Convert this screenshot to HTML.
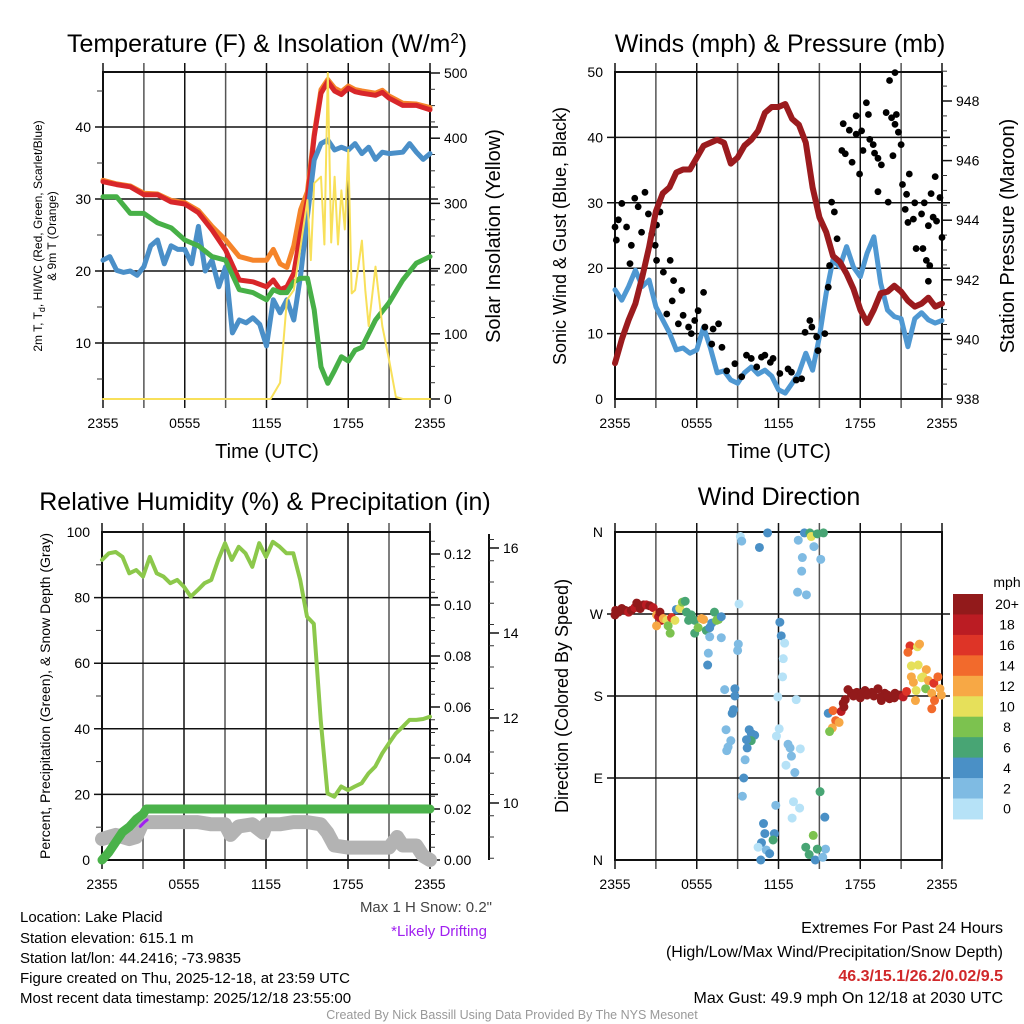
<!DOCTYPE html>
<html><head><meta charset="utf-8">
<style>
html,body{margin:0;padding:0;background:#fff;}
svg{display:block;font-family:"Liberation Sans",Arial,sans-serif;}
</style></head>
<body>
<svg id="fig" xmlns="http://www.w3.org/2000/svg" width="1024" height="1024" viewBox="0 0 1024 1024">
<rect x="0" y="0" width="1024" height="1024" fill="#fff"/>
<text x="267" y="52" font-size="25" text-anchor="middle">Temperature (F) &amp; Insolation (W/m<tspan dy="-9" font-size="15">2</tspan><tspan dy="9">)</tspan></text>
<text x="780" y="52" font-size="25" text-anchor="middle">Winds (mph) &amp; Pressure (mb)</text>
<text x="265" y="510" font-size="25" text-anchor="middle">Relative Humidity (%) &amp; Precipitation (in)</text>
<text x="779" y="505" font-size="25" text-anchor="middle">Wind Direction</text>
<text x="267" y="458" font-size="20" text-anchor="middle">Time (UTC)</text>
<text x="779" y="458" font-size="20" text-anchor="middle">Time (UTC)</text>
<text transform="translate(42,236) rotate(-90)" font-size="12" text-anchor="middle">2m T, T<tspan dy="3" font-size="9">d</tspan><tspan dy="-3">, HI/WC (Red, Green, Scarlet/Blue)</tspan></text>
<text transform="translate(56,236) rotate(-90)" font-size="12" text-anchor="middle">&amp; 9m T (Orange)</text>
<text transform="translate(500,236) rotate(-90)" font-size="20" text-anchor="middle">Solar Insolation (Yellow)</text>
<text transform="translate(566,236) rotate(-90)" font-size="18" text-anchor="middle">Sonic Wind &amp; Gust (Blue, Black)</text>
<text transform="translate(1014,236) rotate(-90)" font-size="20" text-anchor="middle">Station Pressure (Maroon)</text>
<text transform="translate(50,696) rotate(-90)" font-size="14" text-anchor="middle">Percent, Precipitation (Green), &amp; Snow Depth (Gray)</text>
<text transform="translate(568,696) rotate(-90)" font-size="18" text-anchor="middle">Direction (Colored By Speed)</text>
<text x="1007" y="587" font-size="14" text-anchor="middle">mph</text>
<g font-size="15">
<text x="20" y="922">Location: Lake Placid</text>
<text x="20" y="943">Station elevation: 615.1 m</text>
<text x="20" y="963">Station lat/lon: 44.2416; -73.9835</text>
<text x="20" y="983">Figure created on Thu, 2025-12-18, at 23:59 UTC</text>
<text x="20" y="1003">Most recent data timestamp: 2025/12/18 23:55:00</text>
</g>
<text x="492" y="912" font-size="15" fill="#444" text-anchor="end">Max 1 H Snow: 0.2"</text>
<text x="487" y="936" font-size="15" fill="#a020f0" text-anchor="end">*Likely Drifting</text>
<text x="1003" y="933" font-size="16" text-anchor="end">Extremes For Past 24 Hours</text>
<text x="1003" y="957" font-size="16" text-anchor="end">(High/Low/Max Wind/Precipitation/Snow Depth)</text>
<text x="1003" y="981" font-size="16" font-weight="bold" fill="#d0282a" text-anchor="end">46.3/15.1/26.2/0.02/9.5</text>
<text x="1003" y="1003" font-size="16" text-anchor="end">Max Gust: 49.9 mph On 12/18 at 2030 UTC</text>
<text x="512" y="1019" font-size="12.5" fill="#999" text-anchor="middle">Created By Nick Bassill Using Data Provided By The NYS Mesonet</text>
</svg>
<script>
// ---------- data ----------
const xTickLabels = ["2355","0555","1155","1755","2355"];
const tempTicks = [10,20,30,40];
const solarTicks = [0,100,200,300,400,500];
const windTicks = [0,10,20,30,40,50];
const presTicks = [938,940,942,944,946,948];
const rhTicks = [0,20,40,60,80,100];
const precipTicks = [0,0.02,0.04,0.06,0.08,0.10,0.12];
const precipTickLabels = ["0.00","0.02","0.04","0.06","0.08","0.10","0.12"];
const snowTicks = [10,12,14,16];
const dirTickLabels = ["N","E","S","W","N"];
const dirTicks = [0,90,180,270,360];
const speedBinLabels = ["0","2","4","6","8","10","12","14","16","18","20+"];

const tHours = [0,1,2,3,4,5,6,7,8,9,10,11,12,12.5,13,13.5,14,14.5,15,15.5,16,16.5,17,17.5,18,18.5,19,20,20.5,21,22,23,24];
const tempRed = [32.4,32,31.7,30.6,30.6,29.6,29.3,28.1,25.7,22.9,18.75,18.5,17.8,18.75,17.4,17.8,19.7,25.3,29.9,38.7,44.7,46.3,45,44.5,45.4,44.9,44.7,44.4,44.8,44,43,43,42.4];
const tempOrange = [32.6,32.1,31.8,30.8,30.7,29.8,29.5,28.4,26.2,24.3,22,21.5,21.5,23,21,20.5,23.5,28.5,31,39,45.2,46.6,45.4,44.9,45.7,45.2,45,44.7,45.1,44.3,43.3,43.2,42.7];
const dewHours = [0,1,2,3,4,5,6,7,8,9,10,11,12,12.5,13,13.5,14,14.5,15,15.5,16,16.5,17,17.5,18,18.5,19,20,21,22,23,24];
const dewpoint = [30.3,30.3,28,28,26.7,26,24.3,23.5,22,21.5,17.4,17,16,17.4,17,17,18.5,19,19,14.6,6.7,4.4,6.2,8.1,7.5,9,9.4,13.2,15.6,18.75,21.1,22];
const wcHours = [0,0.5,1,1.5,2,2.5,3,3.5,4,4.5,5,5.5,6,6.5,7,7.5,8,8.5,9,9.5,10,10.5,11,11.5,12,12.5,13,13.5,14,14.5,15,15.5,16,16.5,17,17.5,18,18.5,19,19.5,20,20.5,21,22,22.5,23,23.5,24];
const windChill = [21.5,22,20.1,19.8,20,19.4,20.6,23.5,24.3,21,23.5,23,23,21,26.2,20,21.5,17.8,20.6,11.4,13.2,12.8,13.5,12.6,9.6,16,14.2,16,13.2,19.4,27.6,35.4,37.7,38.2,36.8,37.2,36.8,37.7,36.3,37.2,35.5,36.5,36.3,36.5,37.7,36.5,35.5,36.3];
const solarHours = [0,12.3,13,13.5,14,14.5,15,15.25,15.5,16,16.25,16.5,16.75,17,17.25,17.5,17.75,18,18.25,18.5,19,19.25,19.5,20,20.5,21,21.5,22,24];
const solar = [0,0,25,152,167,234,305,213,331,341,237,500,240,341,237,320,260,382,162,167,243,167,112,203,112,60,3,0,0];

const windHours = [0,0.5,1,1.5,2,2.5,3,3.5,4,4.5,5,5.5,6,6.5,7,7.5,8,8.5,9,9.5,10,10.5,11,11.5,12,12.5,13,13.5,14,14.5,15,15.5,16,16.5,17,17.5,18,18.5,19,19.5,20,20.5,21,21.5,22,22.5,23,23.5,24];
const windSpeed = [16.7,15.1,17.2,19.7,17.2,18.2,14.1,12.1,10.1,7.5,7.8,7,7.5,11,7.8,4,4.3,2.9,2.4,4,4.9,3.8,4.4,3.5,1.4,0.9,2.4,4,7,4.4,9.5,16.2,21.3,20.2,23.3,20.2,18.7,22.3,24.8,17.7,13.6,12.6,12.3,8,12.3,13.2,12.1,11.6,12];
const presHours = [0,0.5,1,1.5,2,2.5,3,3.5,4,4.5,5,5.5,6,6.5,7,7.5,8,8.5,9,9.5,10,10.5,11,11.5,12,12.5,13,13.5,14,14.5,15,15.5,16,16.5,17,17.5,18,18.5,19,19.5,20,20.5,21,21.5,22,22.5,23,23.5,24];
const pressure = [939.2,940,940.65,941.2,942.1,943.1,944.3,944.9,945.1,945.6,945.7,945.7,946.1,946.5,946.6,946.7,946.6,945.9,946.1,946.5,946.7,947,947.6,947.8,947.8,947.9,947.4,947.2,946.6,945.1,944.1,943.6,942.8,942.6,942.2,941.7,941,940.55,941,941.55,941.6,941.8,941.6,941.3,941.1,941.2,941.4,941.1,941.2];
const gustHours = [0,0.1,0.25,0.5,0.85,1.1,1.2,1.45,1.7,1.95,2.2,2.45,2.7,2.95,3.05,3.3,3.05,3.55,4.05,4.3,4.2,4.9,3.8,4.65,5,5.4,5.6,5.85,6.1,6.5,6.6,7.2,7.6,7.1,7.85,8.2,8.8,9.3,9.65,10,10.4,10.75,11,11.4,11.6,12.1,12.7,12.95,13.3,13.7,13.95,14.3,14.45,14.8,14.9,15.4,15.65,15.75,15.9,16.1,16.3,16.75,16.65,16.9,17.2,17.4,17.7,17.7,17.95,18.1,18.2,18.45,18.6,18.7,18.95,19.05,19.3,19.55,19.3,19.9,20.05,20.15,20.55,20.3,20.55,20.8,20.4,21,20.65,21.1,21.4,21.3,21.5,21.9,22,22.1,22.5,22.6,22.7,22.85,23,23.2,23.35,23.5,23.6,23.85,24,23.1,23,21.6];
const gust = [26.3,24.3,27.4,29.9,26.3,20.7,23.5,30.7,29.4,25.5,31.6,28.3,25.2,23.5,21.2,28.6,26.6,19.4,21.2,18.1,15,16.6,13,11.5,12.8,11,10,12,13.5,16.3,11,10.7,11.5,8.4,7.9,4.3,5.4,3.4,6.7,6.2,4.9,6.4,6.7,5.6,6.2,3.9,4.6,4.1,2.9,3.1,10.2,12,11,9.5,7.4,10,17.1,20.4,30.1,28.6,24.5,42.1,38,37.5,41.1,36.2,43.3,40.5,34.4,41,38,45.3,43.5,39.7,38.9,37.6,36.8,35.8,31.7,43.8,30.1,48.7,49.9,43,42,40.8,37.2,38.9,43.5,32.8,31.3,29,27,27.5,30,23,28.3,23,30,21.2,18,31.4,27.8,34,27.2,30.8,24.7,20.4,26.5,34.4];

const rhHours = [0,0.5,1,1.5,2,2.5,3,3.5,4,4.5,5,5.5,6,6.5,7,7.5,8,8.5,9,9.5,10,10.5,11,11.5,12,12.5,13,13.5,14,14.5,15,15.5,16,16.5,17,17.5,18,18.5,19,19.5,20,20.5,21,21.5,22,22.5,23,23.5,24];
const relHumidity = [91.5,93.5,93.9,92.4,87.4,88.4,86.4,92.4,87.4,86.4,84.4,85.4,83.3,80.3,82.3,84.4,85.4,91.5,96.6,91.5,95.5,93.5,89.4,96.6,92.4,97,95.5,93.5,93.5,85.4,74.2,72,42.7,20.3,19.3,22.4,21.3,22.4,23.4,26.4,28.5,32.5,35.6,38.6,40.6,42.7,42.7,43,43.7];
const precipHours = [0,0.5,1,1.5,2,2.5,3,3.25,24];
const precip = [0,0.003,0.007,0.011,0.013,0.016,0.018,0.02,0.02];
const snowHours = [0,0.5,1,1.5,2,2.5,3,4,5,6,7,8,9,9.4,10,11,11.8,12,13,14,15,16,16.5,17,18,19,20,21,21.6,22,23,23.5,24];
const snowDepth = [9.15,9.2,9.25,9.2,9.15,9.2,9.55,9.55,9.55,9.55,9.55,9.5,9.5,9.25,9.45,9.5,9.3,9.5,9.5,9.55,9.55,9.5,9.3,9.0,8.95,8.95,8.95,8.95,9.2,9.0,9.0,8.75,8.66];
const driftHours = [2.8,2.95,3.1,3.3];
const driftSnow = [9.45,9.5,9.55,9.6];

const dirHours = [0,0.05,0.25,0.5,0.75,1.0,1.2,1.45,1.6,1.85,2.1,2.3,2.55,2.8,3.05,3.2,3.3,3.4,3.05,3.55,3.8,3.9,4.05,4.15,4.4,4.5,4.75,4.95,5.15,5.25,5.4,5.6,5.85,5.85,6.1,6.35,6.5,6.7,6.95,7.1,7.3,7.45,7.6,7.8,6.95,7.8,6.85,6.8,8.05,8.8,8.8,8.7,8.6,9.05,9.0,9.1,9.2,9.3,8.15,8.5,8.3,8.2,9.85,10.0,10.25,10.0,9.65,9.7,9.55,9.45,9.35,10.6,11.2,11.8,10.9,11.0,11.7,11.6,10.75,10.5,11.1,11.35,10.7,12.1,12.2,12.45,12.35,12.3,11.95,12.05,11.85,12.7,12.85,12.95,12.55,13.2,13.6,13.3,13.1,13.55,13.0,13.4,14.05,13.7,13.75,13.45,13.9,14.3,14.4,14.6,14.85,15.3,15.1,15.05,14.55,14.0,14.25,14.7,15.25,15.4,15.45,14.85,15.65,16.0,16.2,16.45,15.95,15.75,16.6,16.75,17.1,17.35,17.75,18.1,18.35,18.6,18.85,19.3,19.55,19.8,20.15,20.55,20.9,21.15,21.4,21.65,21.5,22.2,22.35,21.75,22.25,22.85,22.6,21.75,21.9,22.1,22.5,22.8,23.0,23.4,23.7,23.85,23.95,23.25,22.05,23.45,23.25,17.5,18.0,18.5,19.0,19.5,20.0,20.5,16.9,16.8];
const dirDeg = [269,274,272,276,274,272,274,277,282,276,280,280,279,277,269,267,272,263,257,265,263,257,249,266,263,275,276,283,284,272,263,269,263,249,255,265,264,252,255,260,272,263,264,267,245,244,227,214,187,188,180,165,161,237,230,281,355,350,143,131,124,120,143,139,137,131,132,123,110,90,70,343,359,60,40,29,29,22,19,14,11,7,0,261,246,238,221,201,179,144,136,127,123,114,104,96,122,176,64,57,46,294,291,317,332,351,359,359,355,344,358,359,330,75,27,14,6,0,3,47,12,12,161,164,153,151,145,141,163,172,187,183,184,183,186,183,184,188,175,183,177,183,181,179,185,235,228,234,237,213,214,209,201,201,195,186,200,188,197,194,201,188,181,183,175,175,166,180,178,181,180,179,181,178,176,168];
const dirSpeed = [20,20,19,19,20,18,19,18,19,20,19,18,20,18,12,17,20,18,12,12,9,8,8,15,10,4,9,8,6,6,6,6,6,6,8,12,12,6,4,4,6,8,8,4,2,2,2,4,2,4,4,4,4,2,2,0,0,2,2,2,2,2,4,4,4,6,4,4,2,4,2,4,4,2,4,4,4,6,4,0,2,4,4,4,4,0,0,0,0,0,0,2,2,2,0,2,0,0,0,0,0,2,2,2,2,2,4,6,10,2,6,6,2,6,8,6,6,4,2,4,2,6,4,14,14,12,12,8,18,20,20,20,20,20,20,20,20,20,20,20,20,20,20,18,16,16,14,10,12,10,10,12,10,12,12,10,10,8,12,16,14,12,12,12,12,14,14,20,20,20,20,20,20,20,20,20];

// ---------- helpers ----------
const NS = "http://www.w3.org/2000/svg";
const svg = document.getElementById("fig");
function mk(tag, attrs, parent) {
  const el = document.createElementNS(NS, tag);
  for (const k in attrs) el.setAttribute(k, attrs[k]);
  (parent || svg).appendChild(el);
  return el;
}
const speedColors = ["#b6e2f7","#7fbbe3","#4a90c6","#48a574","#7cc24f","#e6e05a","#f7a845","#f26a2c","#de3427","#bb1c23","#921a1b"];
function speedColor(s){ return speedColors[Math.max(0,Math.min(10,Math.round(s/2)))]; }

function panel(x0,y0,x1,y1){
  return {x0,y0,x1,y1, xs:h=>x0+(x1-x0)*h/24};
}
function lin(d0,d1,p0,p1){ return v=>p0+(v-d0)*(p1-p0)/(d1-d0); }

function drawLine(name, hours, vals, xs, ys, color, width, parent){
  let d = "";
  for (let i=0;i<hours.length;i++) d += (i?"L":"M")+xs(hours[i]).toFixed(1)+","+ys(vals[i]).toFixed(1);
  const p = mk("path",{d:d,fill:"none",stroke:color,"stroke-width":width,"stroke-linejoin":"round","stroke-linecap":"round"},parent);
  
  
  return p;
}

function frame(P, prefix, yTicksLeft, ysL, leftLabels, gridVals){
  const g = mk("g",{});
  
  
  for (let h=3; h<24; h+=3){
    const x = P.xs(h);
    const l = mk("line",{x1:x,y1:P.y0-9,x2:x,y2:P.y1+9,stroke:(h%6===0)?"#111":"#555","stroke-width":1.5},g);
    
    
  }
  for (const h of [0,24]){
    const x = P.xs(h);
    const l = mk("line",{x1:x,y1:P.y0-9,x2:x,y2:P.y1+9,stroke:"#111","stroke-width":1.5},g);
    
    
  }
  for (const v of gridVals){
    const y = ysL(v);
    const l = mk("line",{x1:P.x0-8,y1:y,x2:P.x1+8,y2:y,stroke:"#111","stroke-width":1.5},g);
    
    
  }
  const r = mk("rect",{x:P.x0,y:P.y0,width:P.x1-P.x0,height:P.y1-P.y0,fill:"none",stroke:"#111","stroke-width":2},g);
  
  
  xTickLabels.forEach((lab,i)=>{
    const t = mk("text",{x:P.xs(i*6),y:P.y1+29,"font-size":14,"text-anchor":"middle"},g);
    t.textContent = lab;
    
    
  });
  yTicksLeft.forEach((v,i)=>{
    const t = mk("text",{x:P.x0-12,y:ysL(v)+5,"font-size":14,"text-anchor":"end"},g);
    t.textContent = leftLabels ? leftLabels[i] : String(v);
    
    
  });
  return g;
}
function rightAxis(prefix, x, ticks, labels, ys, minorStep, lo, hi, withLine, yTop, yBot){
  const g = mk("g",{});
  
  
  if (withLine){
    const l = mk("line",{x1:x,y1:yTop,x2:x,y2:yBot,stroke:"#111","stroke-width":2},g);
    
    
  }
  for (let v=lo; v<=hi+1e-9; v+=minorStep){
    const y = ys(v);
    const l = mk("line",{x1:x,y1:y,x2:x+5,y2:y,stroke:"#333","stroke-width":1},g);
    
    
  }
  ticks.forEach((v,i)=>{
    const y = ys(v);
    const l = mk("line",{x1:x,y1:y,x2:x+10,y2:y,stroke:"#111","stroke-width":1.5},g);
    
    
    const t = mk("text",{x:x+14,y:y+5,"font-size":14},g);
    t.textContent = labels[i];
    
    
  });
}

// ---------- panel 1: temperature ----------
const P1 = panel(103,72,430,399);
const yT = lin(10,40,343,127);
const ySol = lin(0,500,399,73);
frame(P1,"temperature",tempTicks,yT,null,tempTicks);
rightAxis("solar",430,solarTicks,solarTicks.map(String),ySol,25,0,500,false);
for (let v=5; v<=45; v+=5){ if(v%10){ const l=mk("line",{x1:97,y1:yT(v),x2:103,y2:yT(v),stroke:"#333","stroke-width":1});   } }
drawLine("orange-9m-temp-line",tHours,tempOrange,P1.xs,yT,"#f5842a",5);
drawLine("red-2m-temp-line",tHours,tempRed,P1.xs,yT,"#d8262a",5);
drawLine("blue-windchill-line",wcHours,windChill,P1.xs,yT,"#4a8fc8",5);
drawLine("green-dewpoint-line",dewHours,dewpoint,P1.xs,yT,"#47b047",5);
drawLine("yellow-solar-line",solarHours,solar,P1.xs,ySol,"#f8e05a",2);

// ---------- panel 2: winds ----------
const P2 = panel(615,72,942,399);
const yW = lin(0,50,399,72);
const yP = lin(938,948,399,101);
frame(P2,"winds",windTicks,yW,null,windTicks.slice(1,5));
rightAxis("pressure",942,presTicks,presTicks.map(String),yP,0.5,938,949,false);
drawLine("sonic-wind-line",windHours,windSpeed,P2.xs,yW,"#4f98d2",5);
const gG = mk("g",{});


for (let i=0;i<gustHours.length;i++){
  const c = mk("circle",{cx:P2.xs(gustHours[i]),cy:yW(gust[i]),r:3.4,fill:"#000"},gG);
  
  
}
drawLine("pressure-line",presHours,pressure,P2.xs,yP,"#9b1b1e",6);

// ---------- panel 3: humidity ----------
const P3 = panel(102,532,430,860);
const yRH = lin(0,100,860,532);
const yPr = lin(0,0.12,860,554);
const ySn = lin(10,16,803,548);
frame(P3,"humidity",rhTicks,yRH,null,[20,40,60,80]);
rightAxis("precip",430,precipTicks,precipTickLabels,yPr,0.005,0,0.125,false);
rightAxis("snow-depth",489,snowTicks,snowTicks.map(String),ySn,0.5,8.7,16.4,true,534,860);
for (let v=10; v<=90; v+=20){ const l=mk("line",{x1:96,y1:yRH(v),x2:102,y2:yRH(v),stroke:"#333","stroke-width":1});   }
drawLine("snow-depth-line",snowHours,snowDepth,P3.xs,ySn,"#b3b3b3",14);
drawLine("precipitation-line",precipHours,precip,P3.xs,yPr,"#4ab24a",9);
drawLine("drifting-snow-mark",driftHours,driftSnow,P3.xs,ySn,"#a020f0",3);
drawLine("relative-humidity-line",rhHours,relHumidity,P3.xs,yRH,"#8cc84b",4);

// ---------- panel 4: wind direction ----------
const P4 = panel(615,532,942,860);
const yD = lin(0,360,860,532);
frame(P4,"direction",dirTicks,yD,dirTickLabels,[90,180,270]);
const gD = mk("g",{});


for (let i=0;i<dirHours.length;i++){
  const c = mk("circle",{cx:P4.xs(dirHours[i]),cy:yD(dirDeg[i]),r:4.5,fill:speedColor(dirSpeed[i])},gD);
  
  
}
// colorbar
const cbG = mk("g",{});


const cbTop = 594, cbH = 20.45;
for (let i=0;i<11;i++){
  const idx = 10-i;
  const r = mk("rect",{x:953,y:cbTop+i*cbH,width:30,height:cbH+0.5,fill:speedColors[idx]},cbG);
  
  
  const t = mk("text",{x:1007,y:cbTop+i*cbH+cbH/2+5,"font-size":14,"text-anchor":"middle"},cbG);
  t.textContent = speedBinLabels[idx];
  
  
}
</script>
</body></html>
